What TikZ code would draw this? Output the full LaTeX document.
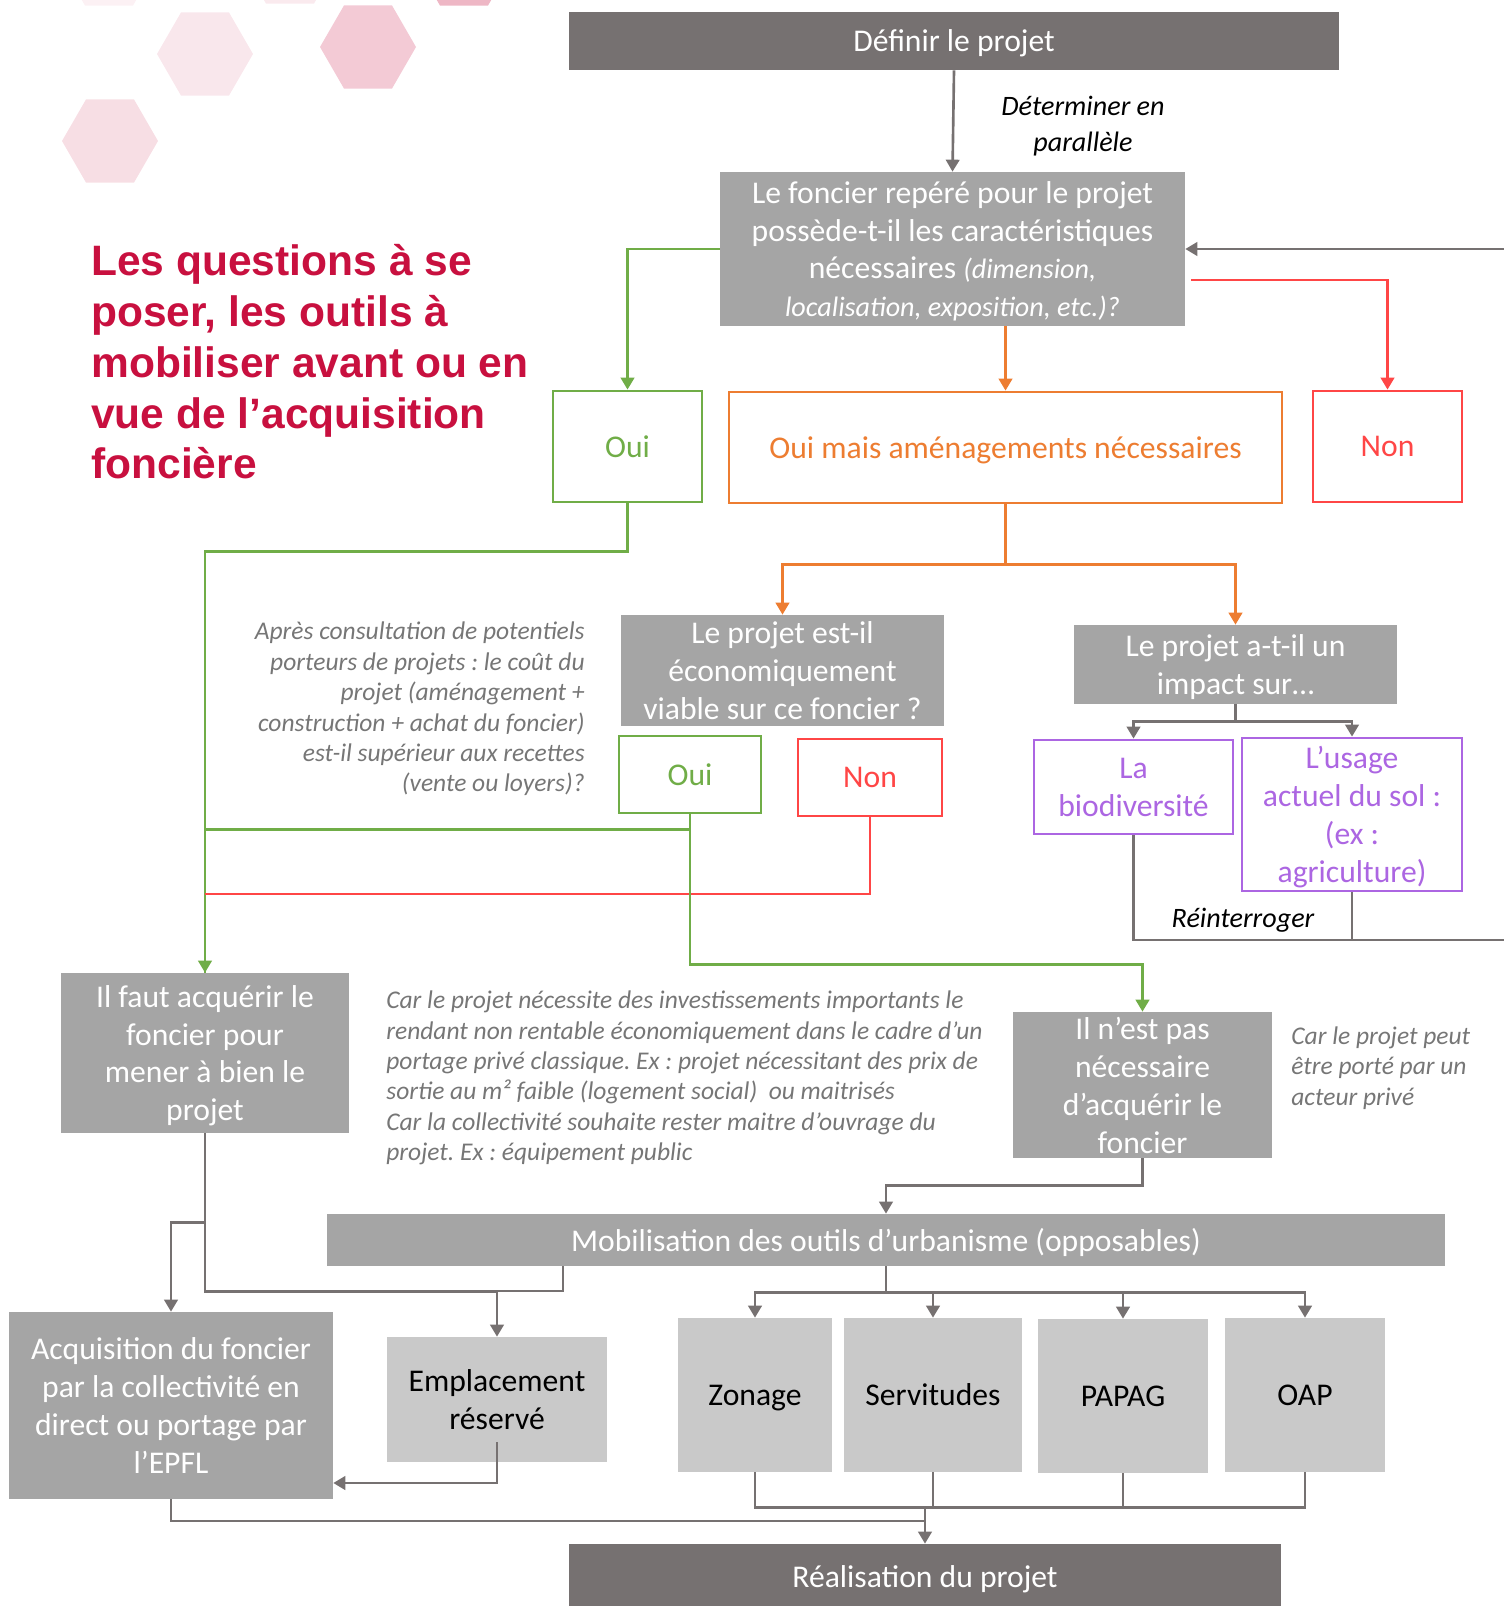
\documentclass[tikz,border=0pt]{standalone}
\usepackage{fontspec}
\setmainfont{Carlito}
\newfontfamily\titrefont{Liberation Sans}
\usepackage{tikz}
\usetikzlibrary{positioning, arrows.meta, calc}
\definecolor{grisfonce}{RGB}{118,113,113}
\definecolor{grismoyen}{RGB}{165,165,165}
\definecolor{grisclair}{RGB}{201,201,201}
\definecolor{grisnote}{RGB}{118,118,118}
\definecolor{vertoui}{RGB}{112,173,71}
\definecolor{orangeam}{RGB}{237,125,49}
\definecolor{rougenon}{RGB}{255,70,70}
\definecolor{violetimp}{RGB}{172,102,226}
\definecolor{rougetitre}{RGB}{200,16,63}
\newcommand{\petitit}[1]{{\fontsize{16}{21.6}\selectfont\itshape #1}}
\frenchspacing

\begin{document}
\begin{tikzpicture}[x=0.02cm, y=-0.02cm,
    texte/.style={inner sep=0pt, align=center, text depth=0pt, font=\fontsize{18}{21.6}\selectfont},
    boitefonce/.style={texte, fill=grisfonce, text=white},
    boitemoy/.style={texte, fill=grismoyen, text=white},
    boiteclaire/.style={texte, fill=grisclair, text=black},
    cadre/.style={texte, draw=#1, text=#1, fill=white, line width=1.6pt},
    lien/.style={line width=1.5pt},
    pointe/.style={-{Triangle[length=0.24cm, width=0.27cm]}},
    note/.style={inner sep=0pt, font=\fontsize{14.5}{17.3}\selectfont\itshape, text=grisnote},
    remarque/.style={inner sep=0pt, align=center, font=\fontsize{16}{20.5}\selectfont\itshape}]

    \useasboundingbox (0,0) rectangle (1504,1606);

    % === HEXAGONES DÉCORATIFS ===
    \foreach \cx/\cy/\teinte in {109/-36/rougetitre!6, 290/-38/rougetitre!9, 464/-36/rougetitre!30,
                                 205/54/rougetitre!10, 368/47/rougetitre!22, 110/141/rougetitre!14}
        \fill[\teinte] (\cx,\cy) +(0:48) -- +(60:48) -- +(120:48) -- +(180:48) -- +(240:48) -- +(300:48) -- cycle;

    % === TITRE ===
    \node[inner sep=0pt, anchor=west, align=left, text=rougetitre,
          font=\titrefont\bfseries\fontsize{24.2}{28.9}\selectfont] (titre) at (91,362)
        {Les questions à se\\poser, les outils à\\mobiliser avant ou en\\vue de l’acquisition\\foncière};

    % === DÉFINITION DU PROJET ===
    \node[boitefonce, minimum width=15.4cm, minimum height=1.16cm] (definir) at (954,41) {Définir le projet};
    \node[remarque] (parallele) at (1083,126) {Déterminer en\\parallèle};

    \node[boitemoy, minimum width=9.3cm, minimum height=3.08cm] (foncier) at (952.5,249)
        {Le foncier repéré pour le projet\\possède-t-il les caractéristiques\\nécessaires \petitit{(dimension,}\\\petitit{localisation, exposition, etc.)?}};

    \draw[lien, grisfonce, pointe] (definir.south) -- (foncier.north);

    % Trois réponses
    \node[cadre=vertoui, minimum width=2.98cm, minimum height=2.22cm] (oui1) at (627.5,446.5) {Oui};
    \node[cadre=orangeam, minimum width=11.06cm, minimum height=2.22cm] (ouimais) at (1005.5,447.5) {Oui mais aménagements nécessaires};
    \node[cadre=rougenon, minimum width=2.98cm, minimum height=2.22cm] (non1) at (1387.5,446.5) {Non};

    \draw[lien, vertoui, pointe] (foncier.west) -| (oui1.north);
    \draw[lien, orangeam, pointe] (ouimais.north |- foncier.south) -- (ouimais.north);
    \draw[lien, rougenon, pointe] ([xshift=0.12cm, yshift=-0.62cm]foncier.east) -| (non1.north);

    % === AMÉNAGEMENTS NÉCESSAIRES ===
    \node[boitemoy, minimum width=6.46cm, minimum height=2.22cm] (viable) at (782.5,670.5)
        {Le projet est-il\\économiquement\\viable sur ce foncier ?};
    \node[boitemoy, minimum width=6.46cm, minimum height=1.58cm] (impact) at (1235.5,664.5)
        {Le projet a-t-il un\\impact sur…};

    \draw[lien, orangeam, pointe] (ouimais.south) -- ++(0,60) -| (viable.north);
    \draw[lien, orangeam, pointe] (ouimais.south) -- ++(0,60) -| (impact.north);

    \node[note, anchor=east, align=right] (consult) at (585,709)
        {Après consultation de potentiels\\porteurs de projets : le coût du\\projet (aménagement +\\construction + achat du foncier)\\est-il supérieur aux recettes\\(vente ou loyers)?};

    \node[cadre=vertoui, minimum width=2.84cm, minimum height=1.54cm] (oui2) at (690,774.5) {Oui};
    \node[cadre=rougenon, minimum width=2.88cm, minimum height=1.54cm] (non2) at (870,777.5) {Non};

    \node[cadre=violetimp, minimum width=3.98cm, minimum height=1.88cm] (biodiv) at (1133.5,787) {La\\biodiversité};
    \node[cadre=violetimp, minimum width=4.4cm, minimum height=3.06cm] (usage) at (1352,814.5)
        {L’usage\\actuel du sol :\\(ex :\\agriculture)};

    \draw[lien, grisfonce, pointe] (impact.south) -- ++(0,17) -| (biodiv.north);
    \draw[lien, grisfonce, pointe] (impact.south) -- ++(0,17) -| (usage.north);

    % Retour vers la question du foncier
    \coordinate (retour) at (1530,940);
    \draw[lien, grisfonce] (biodiv.south) |- (retour);
    \draw[lien, grisfonce, pointe] (usage.south) |- (retour) |- (foncier.east);
    \node[remarque] (reinterroger) at (1243,920) {Réinterroger};

    % === ACQUÉRIR OU NON ===
    \node[boitemoy, minimum width=5.76cm, minimum height=3.2cm] (faut) at (205,1053)
        {Il faut acquérir le\\foncier pour\\mener à bien le\\projet};
    \node[boitemoy, minimum width=5.18cm, minimum height=2.92cm] (pasnec) at (1142.5,1085)
        {Il n’est pas\\nécessaire\\d’acquérir le\\foncier};

    \draw[lien, vertoui, pointe] (oui1.south) -- ++(0,48) -| (faut.north);
    \draw[lien, vertoui] (oui2.south) -- ++(0,15) -| (faut.north);
    \draw[lien, rougenon] (non2.south) |- (faut.north |- 0,894);
    \draw[lien, vertoui, pointe] (oui2.south) -- ++(0,150) -| (pasnec.north);

    \node[note, anchor=west, align=left] (raisons) at (386,1078)
        {Car le projet nécessite des investissements importants le\\rendant non rentable économiquement dans le cadre d’un\\portage privé classique. Ex : projet nécessitant des prix de\\sortie au m² faible (logement social)~ ou maitrisés\\Car la collectivité souhaite rester maitre d’ouvrage du\\projet. Ex : équipement public};
    \node[note, anchor=west, align=left] (prive) at (1291,1068)
        {Car le projet peut\\être porté par un\\acteur privé};

    % === OUTILS D'URBANISME ===
    \node[boitemoy, minimum width=22.36cm, minimum height=1.04cm] (mobil) at (886,1240)
        {Mobilisation des outils d’urbanisme (opposables)};
    \draw[lien, grisfonce, pointe] (pasnec.south) -- ++(0,27) -| (mobil.north);

    \node[boitemoy, minimum width=6.48cm, minimum height=3.74cm] (acqui) at (171,1405.5)
        {Acquisition du foncier\\par la collectivité en\\direct ou portage par\\l’EPFL};
    \node[boiteclaire, minimum width=4.4cm, minimum height=2.5cm] (emplac) at (497,1399.5) {Emplacement\\réservé};

    \node[boiteclaire, minimum width=3.08cm, minimum height=3.08cm] (zonage) at (755,1395) {Zonage};
    \node[boiteclaire, minimum width=3.56cm, minimum height=3.08cm] (servit) at (933,1395) {Servitudes};
    \node[boiteclaire, minimum width=3.4cm, minimum height=3.08cm] (papag) at (1123,1396) {PAPAG};
    \node[boiteclaire, minimum width=3.2cm, minimum height=3.08cm] (oap) at (1305,1395) {OAP};

    \draw[lien, grisfonce, pointe] (faut.south) -- ++(0,89) -| (acqui.north);
    \draw[lien, grisfonce, pointe] (faut.south) -- ++(0,158) -| (emplac.north);
    \draw[lien, grisfonce] (mobil.south -| 563,0) |- (emplac.north |- 0,1291);
    \foreach \outil in {zonage, servit, papag, oap}
        \draw[lien, grisfonce, pointe] (mobil.south) -- ++(0,26) -| (\outil.north);
    \draw[lien, grisfonce, pointe] ([yshift=0.4cm]emplac.south) |- (acqui.east |- 0,1483);

    % === RÉALISATION ===
    \node[boitefonce, minimum width=14.24cm, minimum height=1.32cm] (realis) at (925,1577) {Réalisation du projet};

    \draw[lien, grisfonce] (zonage.south) -- ++(0,35) -| (oap.south);
    \draw[lien, grisfonce] (servit.south) -- ++(0,35);
    \draw[lien, grisfonce] (papag.south) -- ++(0,34);
    \draw[lien, grisfonce] (acqui.south) |- (realis.north |- 0,1521);
    \draw[lien, grisfonce, pointe] (realis.north |- 0,1507) -- (realis.north);

\end{tikzpicture}
\end{document}
